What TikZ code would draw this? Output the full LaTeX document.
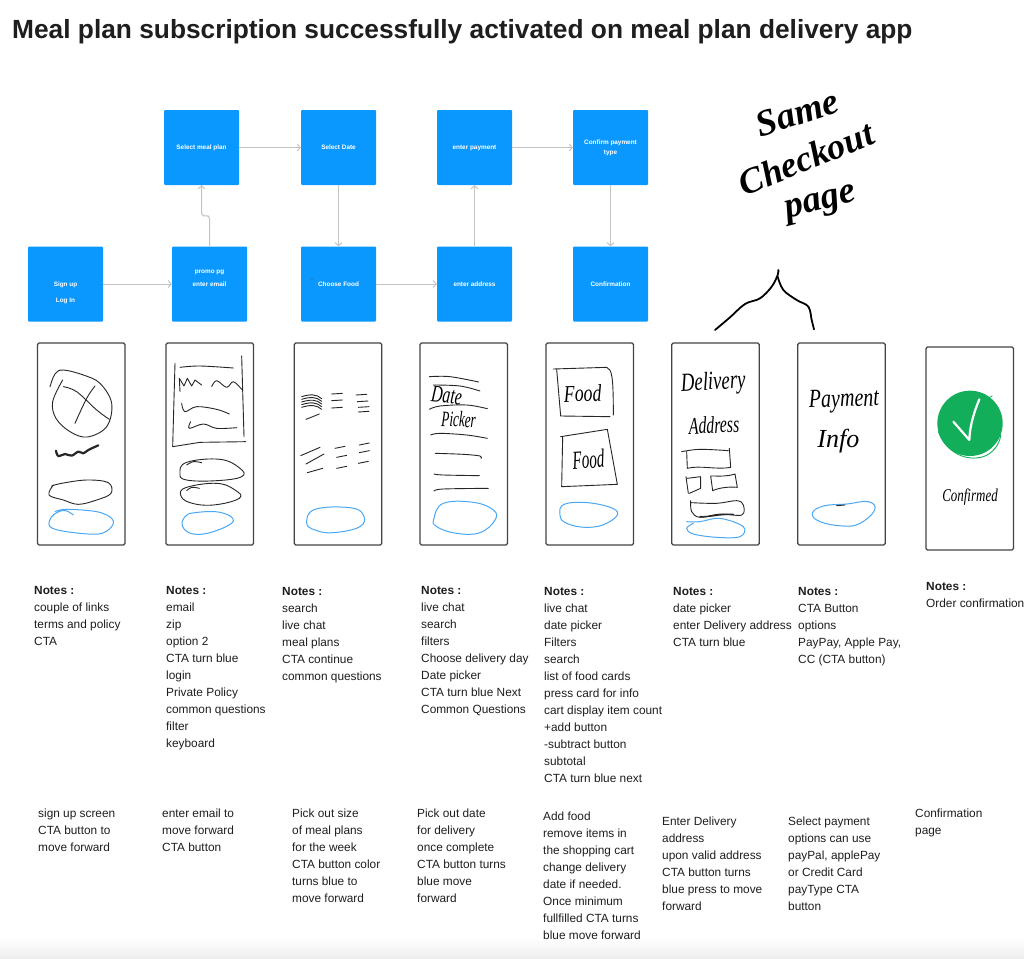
\documentclass[tikz,border=0pt]{standalone}
\usepackage{fontspec}
\setmainfont{Liberation Sans}
\newfontfamily\handfont{Liberation Serif}
\usetikzlibrary{arrows.meta,calc,shadings}
\definecolor{flowblue}{HTML}{0A98FF}
\definecolor{linkgray}{HTML}{C4C4C4}
\definecolor{inkdark}{HTML}{262626}
\definecolor{inkblue}{HTML}{4AA8F5}
\definecolor{okgreen}{HTML}{12AE5A}
\definecolor{framegray}{HTML}{444444}
\definecolor{txt}{HTML}{1E1E1E}
\tikzset{
  flowbox/.style={fill=flowblue,draw=none,rounded corners=1pt,minimum width=75pt,minimum height=75pt,inner sep=0pt,text=white,align=center,font=\fontsize{6.4}{16}\selectfont\bfseries},
  link/.style={draw=linkgray,line width=1pt,-{Straight Barb[length=3pt,width=7pt]}},
  phone/.style={draw=framegray,line width=1.2pt,rounded corners=1.5pt,fill=white,inner sep=0pt},
  note/.style={anchor=north west,inner sep=0pt,align=left,text=txt,font=\fontsize{11.85}{17}\selectfont},
  hand/.style={inner sep=0pt,text=black,font=\handfont\itshape},
  sk/.style={draw=inkdark,line width=.9pt,line cap=round,line join=round},
  skb/.style={draw=inkblue,line width=1pt,line cap=round,line join=round},
  zoomed/.style={x=.33333pt,y=-.33333pt}
}
\newcommand{\skline}[2][sk]{\draw[#1] plot[smooth,tension=.6] coordinates {#2};}
\newcommand{\skloop}[2][sk]{\draw[#1] plot[smooth cycle,tension=.7] coordinates {#2};}
\newcommand{\boxtxt}[2][-2pt]{\smash{\raisebox{#1}{\begin{tabular}[t]{@{}c@{}}#2\end{tabular}}}}
\begin{document}
\begin{tikzpicture}[x=1pt,y=-1pt]
\useasboundingbox (0,0) rectangle (1024,958);
\fill[white] (0,0) rectangle (1024,958);
\shade[top color=white,bottom color=black!7] (0,938) rectangle (1024,958);

\node[anchor=base west,inner sep=0pt,text=txt,font=\fontsize{26.3}{30}\selectfont\bfseries] (title) at (12,39) {Meal plan subscription successfully activated on meal plan delivery app};

% flow
\node[flowbox] (signup) at (65.5,284) {\boxtxt{Sign up\\Log In}};
\node[flowbox,font=\fontsize{6.4}{13}\selectfont\bfseries] (promo) at (209.5,284) {\boxtxt[11pt]{promo pg\\enter email}};
\node[flowbox] (meal) at (201.5,147.5) {\boxtxt{Select meal plan\hspace{7pt}}};
\node[flowbox] (date) at (338.5,147.5) {\boxtxt{Select Date}};
\node[flowbox] (food) at (338.5,284) {\boxtxt{Choose Food}};
\node[flowbox] (addr) at (474.5,284) {\boxtxt{enter address}};
\node[flowbox] (pay) at (474.5,147.5) {\boxtxt{enter payment}};
\node[flowbox,font=\fontsize{6.4}{10}\selectfont\bfseries] (ctype) at (610.5,147.5) {\boxtxt[2.7pt]{Confirm payment\\type}};
\node[flowbox] (conf) at (610.5,284) {\boxtxt{Confirmation}};
\fill[black!70] ($(food.center)+(-26.5,-5)$) circle[radius=.6];
\draw[link] (signup) -- (promo);
\draw[link,rounded corners=3pt] (promo.north) |- ($(promo.north)!.5!(meal.south)$) -| (meal.south);
\draw[link] (meal) -- (date);
\draw[link] (date) -- (food);
\draw[link] (food) -- (addr);
\draw[link] (addr) -- (pay);
\draw[link] (pay) -- (ctype);
\draw[link] (ctype) -- (conf);

% phones
\node[phone,minimum width=87.5pt,minimum height=202pt] (p1) at (81.25,444) {};
\node[phone,minimum width=87.5pt,minimum height=202pt] (p2) at (209.75,444) {};
\node[phone,minimum width=87.5pt,minimum height=202pt] (p3) at (338,444) {};
\node[phone,minimum width=87.5pt,minimum height=202pt] (p4) at (463.75,444) {};
\node[phone,minimum width=87.5pt,minimum height=202pt] (p5) at (589.75,444) {};
\node[phone,minimum width=87.5pt,minimum height=202pt] (p6) at (715.5,444) {};
\node[phone,minimum width=87.5pt,minimum height=202pt] (p7) at (841.5,444) {};
\node[phone,minimum width=87.5pt,minimum height=203pt] (p8) at (969.75,448.5) {};

% sketches, phones 1-3
\begin{scope}[shift={(0,330)},zoomed]
\skline{(150,170)(165,132)(190,120)(250,135)(300,160)(335,220)(320,290)(262,321)(210,305)(168,265)(158,215)(188,150)}
\skline{(225,280)(260,205)(285,168)}
\skline{(190,170)(230,185)(290,240)(328,268)}
\skline[sk,line width=2.2pt]{(168,362)(175,378)(195,372)(215,377)(235,365)(250,370)(265,360)(295,346)}
\skline{(155,468)(185,460)(260,450)(325,458)(333,490)(290,510)(235,523)(190,510)(147,495)(160,465)}
\skline[skb]{(165,545)(200,538)(290,545)(335,565)(335,590)(295,612)(200,605)(150,590)(155,560)(185,542)(205,545)(220,555)}
\skline{(540,112)(600,108)(700,114)}
\draw[sk] (525,100) -- (518,350) -- (600,337) -- (737,335);
\draw[sk] (725,78) -- (732,320);
\draw[sk] (540,185) -- (538,145) -- (552,168) -- (562,145) -- (575,168) -- (585,150) -- (605,165);
\skline{(635,170)(650,152)(680,172)(700,155)(725,178)}
\skline{(545,220)(555,245)(590,230)(650,238)(688,252)}
\skline{(572,275)(568,295)(610,282)(650,295)(710,293)}
\skloop{(560,397)(660,388)(720,415)(725,440)(650,452)(560,450)(540,430)}
\skloop{(560,472)(650,460)(705,480)(718,505)(640,525)(570,518)(542,495)}
\skline{(560,405)(580,395)(605,398)}
\skline{(560,482)(575,472)(598,475)}
\skloop[skb]{(585,548)(660,547)(700,573)(640,605)(580,612)(548,590)(555,560)}
\skloop[skb]{(945,538)(1050,533)(1090,555)(1080,590)(1000,608)(945,600)(920,578)}
\foreach \yy in {200,208,216,224,232}{\draw[sk] (905,\yy) .. controls (930,\yy-8) and (950,\yy-8) .. (965,\yy+6);}
\draw[sk] (918,268) -- (958,252);
\foreach \xa/\ya in {995/192,995/212,995/234,1068/195,1072/215,1075/232,1075/246}{\draw[sk] (\xa,\ya) -- (\xa+32,\ya-2);}
\draw[sk] (902,377) -- (960,352);
\draw[sk] (918,402) -- (972,372);
\draw[sk] (922,428) -- (968,415);
\foreach \xa/\ya in {1005/355,1010/382,1010/415,1078/345,1078/368,1075/400}{\draw[sk] (\xa,\ya) -- (\xa+30,\ya-6);}
\end{scope}

% sketches, phones 4-6
\begin{scope}[shift={(400,330)},zoomed]
\skline{(88,140)(150,140)(236,156)}
\skline{(100,165)(180,168)(240,183)}
\node[hand,font=\handfont\itshape\fontsize{24}{24}\selectfont,rotate=-6,xscale=.66] (tdate) at (140,197) {Date};
\skline{(88,238)(120,228)(200,225)(262,236)}
\node[hand,font=\handfont\itshape\fontsize{22}{22}\selectfont,rotate=-2,xscale=.6] (tpick) at (176,268) {Picker};
\skline{(92,315)(120,310)(200,315)(262,325)}
\skline{(106,370)(190,373)(240,378)(243,385)}
\skline{(102,432)(130,435)(238,437)}
\skline{(102,483)(130,477)(265,475)}
\skloop[skb]{(130,520)(220,517)(280,540)(285,570)(240,608)(170,610)(110,590)(102,565)}
\draw[sk] (460,117) -- (620,112) .. controls (635,120) and (640,130) .. (640,255);
\draw[sk] (470,118) -- (482,258) -- (630,260);
\node[hand,font=\handfont\itshape\fontsize{24}{24}\selectfont,rotate=2,xscale=.74] (tfoodA) at (548,190) {Food};
\draw[sk] (482,320) -- (622,298) -- (652,463) -- (485,470) -- (488,320);
\node[hand,font=\handfont\itshape\fontsize{26}{26}\selectfont,rotate=4,xscale=.58] (tfoodB) at (565,388) {Food};
\skloop[skb]{(495,522)(580,520)(652,545)(620,580)(560,592)(500,580)(480,555)}
\node[hand,font=\handfont\itshape\fontsize{26}{26}\selectfont,rotate=3,xscale=.72] (tdel) at (940,160) {Delivery};
\node[hand,font=\handfont\itshape\fontsize{24}{24}\selectfont,rotate=2,xscale=.66] (tadd) at (942,285) {Address};
\skline{(845,365)(900,358)(985,362)}
\draw[sk] (860,365) -- (862,415) .. controls (900,405) and (950,420) .. (992,412) -- (988,355);
\draw[sk] (858,440) -- (865,490);
\draw[sk] (862,445) -- (902,440) -- (902,475) -- (868,490);
\draw[sk] (932,438) .. controls (960,438) and (980,440) .. (1005,432) -- (1012,472) .. controls (990,470) and (960,472) .. (938,482) -- cycle;
\skline{(872,512)(875,545)(900,562)(960,552)(1025,555)(1030,525)(1010,512)(950,520)(875,518)}
\draw[sk,line width=1.4pt] (900,560) .. controls (930,562) and (950,552) .. (1000,553);
\skline[skb]{(860,575)(900,575)(960,565)(1030,590)(1020,620)(950,622)(880,612)(860,595)(880,580)}
\end{scope}

% phones 7-8
\begin{scope}[shift={(780,340)},zoomed]
\node[hand,font=\handfont\itshape\fontsize{26}{26}\selectfont,rotate=2,xscale=.77] (tpay) at (192,183) {Payment};
\node[hand,font=\handfont\itshape\fontsize{26}{26}\selectfont] (tinfo) at (175,303) {Info};
\skloop[skb]{(130,498)(200,492)(265,485)(284,510)(240,550)(190,558)(120,545)(97,520)}
\skline[sk]{(170,497)(195,495)}
\draw[okgreen,line width=.9pt] (475,275) .. controls (500,340) and (560,365) .. (610,350) .. controls (640,340) and (660,310) .. (662,285);
\fill[okgreen] (570,250) circle[radius=98];
\draw[okgreen,line width=.8pt] (625,175) -- (637,167);
\draw[white,line width=2.2pt,line cap=round,line join=round] (520,245) -- (568,300) .. controls (570,250) and (585,210) .. (598,178);
\node[hand,font=\handfont\itshape\fontsize{18}{18}\selectfont,xscale=.72] (tconf) at (570,472) {Confirmed};
\end{scope}

% handwritten heading and bracket
\begin{scope}[shift={(680,80)},zoomed]
\node[hand,font=\handfont\itshape\bfseries\fontsize{37}{37}\selectfont,rotate=18] (same) at (352,98) {Same};
\node[hand,font=\handfont\itshape\bfseries\fontsize{36}{36}\selectfont,rotate=22] (check) at (378,235) {Checkout};
\node[hand,font=\handfont\itshape\bfseries\fontsize{37}{37}\selectfont,rotate=14] (page) at (425,375) {page};
\draw[black,line width=1.8pt,line cap=round] plot[smooth,tension=.6] coordinates {(105,750)(150,712)(195,672)(240,655)(275,620)(293,585)(295,570)};
\draw[black,line width=1.8pt,line cap=round] plot[smooth,tension=.6] coordinates {(293,590)(310,630)(350,660)(385,680)(395,720)(402,748)};
\end{scope}

% notes
\node[note] (n1) at (34,586) {\textbf{Notes :}\\couple of links\\terms and policy\\CTA};
\node[note] (n2) at (166,586) {\textbf{Notes :}\\email\\zip\\option 2\\CTA turn blue\\login\\Private Policy\\common questions\\filter\\keyboard};
\node[note] (n3) at (282,587) {\textbf{Notes :}\\search\\live chat\\meal plans\\CTA continue\\common questions};
\node[note] (n4) at (421,586) {\textbf{Notes :}\\live chat\\search\\filters\\Choose delivery day\\Date picker\\CTA turn blue Next\\Common Questions};
\node[note] (n5) at (544,587) {\textbf{Notes :}\\live chat\\date picker\\Filters\\search\\list of food cards\\press card for info\\cart display item count\\+add button\\-subtract button\\subtotal\\CTA turn blue next};
\node[note] (n6) at (673,587) {\textbf{Notes :}\\date picker\\enter Delivery address\\CTA turn blue};
\node[note] (n7) at (798,587) {\textbf{Notes :}\\CTA Button\\options\\PayPay, Apple Pay,\\CC (CTA button)};
\node[note] (n8) at (926,582) {\textbf{Notes :}\\Order confirmation};

\node[note] (b1) at (38,809) {sign up screen\\CTA button to\\move forward};
\node[note] (b2) at (162,809) {enter email to\\move forward\\CTA button};
\node[note] (b3) at (292,809) {Pick out size\\of meal plans\\for the week\\CTA button color\\turns blue to\\move forward};
\node[note] (b4) at (417,809) {Pick out date\\for delivery\\once complete\\CTA button turns\\blue move\\forward};
\node[note] (b5) at (543,812) {Add food\\remove items in\\the shopping cart\\change delivery\\date if needed.\\Once minimum\\fullfilled CTA turns\\blue move forward};
\node[note] (b6) at (662,817) {Enter Delivery\\address\\upon valid address\\CTA button turns\\blue press to move\\forward};
\node[note] (b7) at (788,817) {Select payment\\options can use\\payPal, applePay\\or Credit Card\\payType CTA\\button};
\node[note] (b8) at (915,809) {Confirmation\\page};
\end{tikzpicture}
\end{document}
